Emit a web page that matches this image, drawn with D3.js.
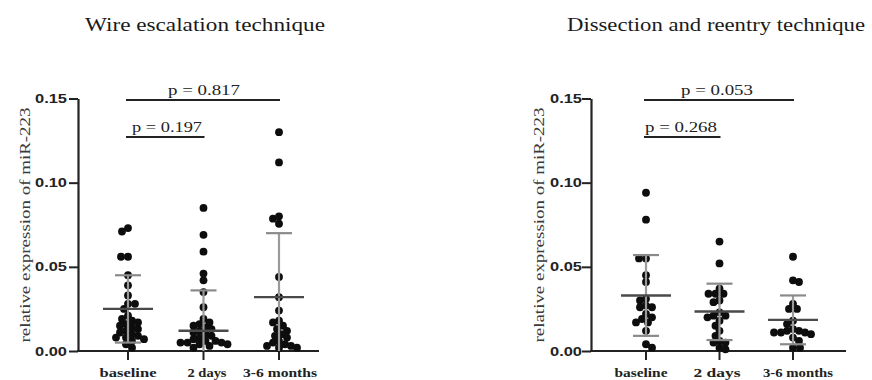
<!DOCTYPE html>
<html>
<head>
<meta charset="utf-8">
<script src="https://cdn.jsdelivr.net/npm/d3@7"></script>
<style>
  html, body { margin: 0; padding: 0; background: #fff; }
  svg { display: block; }
</style>
</head>
<body>
<svg id="chart" width="872" height="380"></svg>
<script>
// Groups along the x axis
const categories = ["baseline", "2 days", "3-6 months"];

// Wire escalation technique: relative expression of miR-223 per patient
const wireBaseline = [0.073, 0.071, 0.056, 0.056, 0.045, 0.039, 0.033, 0.028, 0.028, 0.025,
  0.021, 0.019, 0.018, 0.017, 0.016, 0.015, 0.014, 0.013, 0.012, 0.011, 0.010, 0.009,
  0.008, 0.008, 0.007, 0.006, 0.004, 0.002];
const wireTwoDays = [0.085, 0.069, 0.059, 0.046, 0.042, 0.035, 0.026, 0.019, 0.017, 0.016,
  0.015, 0.014, 0.013, 0.012, 0.011, 0.010, 0.009, 0.008, 0.007, 0.006, 0.006, 0.005,
  0.005, 0.005, 0.004, 0.004, 0.003, 0.002];
const wireMonths = [0.130, 0.112, 0.080, 0.0786, 0.0756, 0.044, 0.032, 0.024, 0.018, 0.017,
  0.015, 0.013, 0.012, 0.010, 0.009, 0.008, 0.006, 0.005, 0.004, 0.003, 0.003, 0.002, 0.002];
const wireCenter = [0.025, 0.012, 0.032];
const wireUpper = [0.045, 0.036, 0.070];
const wireLower = [0.005, 0, 0];
const wirePValues = ["p = 0.197", "p = 0.817"];

// Dissection and reentry technique
const dissBaseline = [0.094, 0.078, 0.055, 0.055, 0.045, 0.041, 0.031, 0.030, 0.027, 0.026,
  0.026, 0.022, 0.020, 0.019, 0.017, 0.017, 0.012, 0.004, 0.002];
const dissTwoDays = [0.065, 0.052, 0.037, 0.034, 0.034, 0.034, 0.030, 0.029, 0.023, 0.021,
  0.021, 0.020, 0.018, 0.015, 0.012, 0.009, 0.006, 0.005, 0.005, 0.002, 0.001];
const dissMonths = [0.056, 0.042, 0.041, 0.028, 0.025, 0.025, 0.018, 0.016, 0.013, 0.012,
  0.012, 0.011, 0.011, 0.011, 0.010, 0.008, 0.006, 0.002, 0.002];
const dissCenter = [0.033, 0.0235, 0.0185];
const dissUpper = [0.057, 0.040, 0.033];
const dissLower = [0.009, 0.0065, 0.004];
const dissPValues = ["p = 0.268", "p = 0.053"];

const yTicks = [0, 0.05, 0.10, 0.15];
const yTitle = "relative expression of miR-223";

const panels = [
  {
    title: "Wire escalation technique",
    series: [wireBaseline, wireTwoDays, wireMonths],
    center: wireCenter, upper: wireUpper, lower: wireLower, pvals: wirePValues,
    axisX: 78, axisEnd: 319, catRange: [128, 279],
    titleX: 85, titleW: 240, yTitleX: 30, tickLabelRight: 67,
    labelX: [128, 207, 280], labelW: [57, 39, 74],
    pText: [{x: 132, w: 70}, {x: 168, w: 72}]
  },
  {
    title: "Dissection and reentry technique",
    series: [dissBaseline, dissTwoDays, dissMonths],
    center: dissCenter, upper: dissUpper, lower: dissLower, pvals: dissPValues,
    axisX: 591, axisEnd: 846, catRange: [646, 793],
    titleX: 567, titleW: 298, yTitleX: 544, tickLabelRight: 582,
    labelX: [641, 717, 798], labelW: [53, 47, 70],
    pText: [{x: 645, w: 72}, {x: 681, w: 72}]
  }
];

const svg = d3.select("#chart");
const y = d3.scaleLinear().domain([0, 0.15]).range([351, 98.5]);
const R = 3.9;

// simple beeswarm: place each point at the nearest free horizontal offset
function swarm(values, xc) {
  const pts = values.map(v => ({ v, y: y(v) })).sort((a, b) => b.v - a.v);
  const placed = [];
  const minD = 2 * R * 0.78;
  pts.forEach((p, i) => {
    const sgn = i % 2 === 0 ? 1 : -1;
    for (let k = 0; k < 60; k++) {
      const off = k === 0 ? 0 : (k % 2 === 1 ? sgn : -sgn) * Math.ceil(k / 2);
      const x = xc + off;
      if (placed.every(q => Math.hypot(q.x - x, q.y - p.y) >= minD)) {
        p.x = x;
        break;
      }
    }
    placed.push(p);
  });
  return placed;
}

panels.forEach(P => {
  const g = svg.append("g");
  const x = d3.scalePoint().domain(categories).range(P.catRange);

  // title
  g.append("text")
    .attr("x", P.titleX).attr("y", 31)
    .attr("font-family", "Liberation Serif, Times New Roman, serif")
    .attr("font-size", 19).attr("fill", "#1a1a1a")
    .attr("textLength", P.titleW).attr("lengthAdjust", "spacingAndGlyphs")
    .text(P.title);

  // y axis title
  g.append("text")
    .attr("transform", `translate(${P.yTitleX},225) rotate(-90)`)
    .attr("text-anchor", "middle")
    .attr("font-family", "Liberation Serif, Times New Roman, serif")
    .attr("font-size", 15.5).attr("fill", "#3a3a3a")
    .attr("textLength", 235).attr("lengthAdjust", "spacingAndGlyphs")
    .text(yTitle);

  // y axis
  const yAxis = g.append("g")
    .attr("transform", `translate(${P.axisX},0)`)
    .call(d3.axisLeft(y).tickValues(yTicks).tickFormat(d3.format(".2f")).tickSize(9).tickSizeOuter(0));
  yAxis.select(".domain").attr("stroke", "#222").attr("stroke-width", 2.2);
  yAxis.selectAll(".tick line").attr("stroke", "#222").attr("stroke-width", 2);
  yAxis.selectAll(".tick text")
    .attr("x", P.tickLabelRight - P.axisX)
    .attr("font-family", "Liberation Sans, Arial, sans-serif")
    .attr("font-weight", "bold").attr("font-size", 12.5).attr("fill", "#222")
    .attr("textLength", 32).attr("lengthAdjust", "spacingAndGlyphs");

  // x axis line and ticks
  g.append("line")
    .attr("x1", P.axisX - 1).attr("x2", P.axisEnd)
    .attr("y1", y(0)).attr("y2", y(0))
    .attr("stroke", "#222").attr("stroke-width", 2.2);
  categories.forEach((c, i) => {
    g.append("line")
      .attr("x1", x(c)).attr("x2", x(c))
      .attr("y1", y(0)).attr("y2", y(0) + 9)
      .attr("stroke", "#222").attr("stroke-width", 2);
    g.append("text")
      .attr("x", P.labelX[i]).attr("y", 377)
      .attr("text-anchor", "middle")
      .attr("font-family", "Liberation Serif, Times New Roman, serif")
      .attr("font-weight", "bold").attr("font-size", 12.5).attr("fill", "#222")
      .attr("textLength", P.labelW[i]).attr("lengthAdjust", "spacingAndGlyphs")
      .text(c);
  });

  // dots
  P.series.forEach((vals, i) => {
    const pts = swarm(vals, x(categories[i]));
    g.append("g").selectAll("circle").data(pts).join("circle")
      .attr("cx", d => d.x).attr("cy", d => d.y).attr("r", R)
      .attr("fill", "#0d0d0d");
  });

  // mean and SD bars
  categories.forEach((c, i) => {
    const cx = x(c);
    g.append("line")
      .attr("x1", cx).attr("x2", cx)
      .attr("y1", y(P.upper[i])).attr("y2", y(P.lower[i]))
      .attr("stroke", "#9a9a9a").attr("stroke-width", 2.2);
    g.append("line")
      .attr("x1", cx - 13).attr("x2", cx + 13)
      .attr("y1", y(P.upper[i])).attr("y2", y(P.upper[i]))
      .attr("stroke", "#8a8a8a").attr("stroke-width", 2.2);
    if (P.lower[i] > 0) {
      g.append("line")
        .attr("x1", cx - 13).attr("x2", cx + 13)
        .attr("y1", y(P.lower[i])).attr("y2", y(P.lower[i]))
        .attr("stroke", "#8a8a8a").attr("stroke-width", 2.2);
    }
    g.append("line")
      .attr("x1", cx - 25).attr("x2", cx + 25)
      .attr("y1", y(P.center[i])).attr("y2", y(P.center[i]))
      .attr("stroke", "#4a4a4a").attr("stroke-width", 2.4);
  });

  // significance brackets
  const brackets = [
    { from: categories[0], to: categories[1], yPix: 137, text: P.pvals[0] },
    { from: categories[0], to: categories[2], yPix: 100, text: P.pvals[1] }
  ];
  brackets.forEach((b, j) => {
    g.append("line")
      .attr("x1", x(b.from) - 2).attr("x2", x(b.to) + 1)
      .attr("y1", b.yPix).attr("y2", b.yPix)
      .attr("stroke", "#222").attr("stroke-width", 2);
    g.append("text")
      .attr("x", P.pText[j].x).attr("y", b.yPix - 5)
      .attr("font-family", "Liberation Serif, Times New Roman, serif")
      .attr("font-size", 15).attr("fill", "#222")
      .attr("textLength", P.pText[j].w).attr("lengthAdjust", "spacingAndGlyphs")
      .text(b.text);
  });
});
</script>
</body>
</html>
